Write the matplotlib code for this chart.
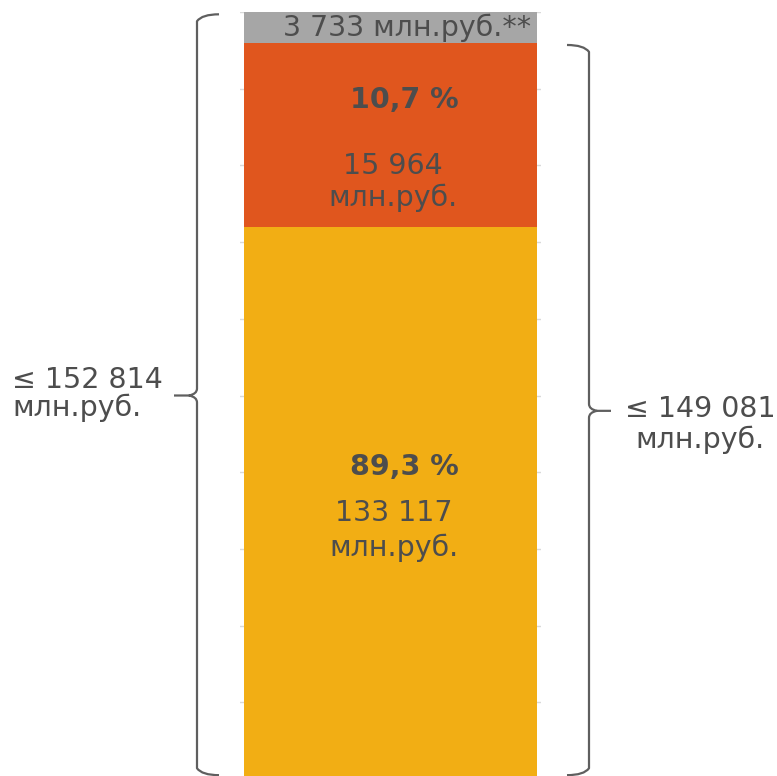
import numpy as np
import matplotlib
matplotlib.use("Agg")
import matplotlib.pyplot as plt
import matplotlib.transforms as mtransforms
from matplotlib.path import Path
from matplotlib.patches import PathPatch

# данные ################
segments = ["основная часть", "дополнительная часть", "прочее"]
bar_heights = [72, 24, 4]            # высота сегментов на шкале 0..100
amounts = ["133 117", "15 964", "3 733"]
shares = ["89,3 %", "10,7 %"]
total_left = "152 814"
total_right = "149 081"
unit = "млн.руб."
colors = ["#F2AE14", "#E0561E", "#A6A6A6"]
#########################

text_color = "#4d4d4d"
line_color = "#5f5f5f"
fs = 20.5

W, H = 777, 776
fig = plt.figure(figsize=(W / 100, H / 100), dpi=100)
ax = fig.add_axes([240 / W, (H - 779) / H, 301 / W, 767 / H])

bottoms = np.concatenate([[0], np.cumsum(bar_heights)[:-1]])
ax.bar([0] * 3, bar_heights, bottom=bottoms, width=0.973, color=colors, zorder=2)

ax.set_xlim(-0.5, 0.5)
ax.set_ylim(0, 100)
ax.set_yticks(np.arange(0, 101, 10))
ax.grid(axis="y", color="#d9d9d9", linewidth=1.0, zorder=0)
ax.tick_params(left=False, bottom=False, labelleft=False, labelbottom=False)
for s in ax.spines.values():
    s.set_visible(False)

# подписи внутри столбца
top_total = sum(bar_heights)
ax.text(0.056, top_total - 2.1, amounts[2] + " " + unit + "**", ha="center", va="center",
        fontsize=fs, color=text_color, zorder=3)
ax.text(0.045, 88.5, shares[1], ha="center", va="center", fontsize=fs,
        fontweight="bold", color=text_color, zorder=3)
ax.text(0.008, 77.8, amounts[1] + "\n" + unit, ha="center", va="center", fontsize=fs,
        color=text_color, linespacing=1.15, zorder=3)
ax.text(0.045, 40.7, shares[0], ha="center", va="center", fontsize=fs,
        fontweight="bold", color=text_color, zorder=3)
ax.text(0.01, 32.4, amounts[0] + "\n" + unit, ha="center", va="center", fontsize=fs,
        color=text_color, linespacing=1.25, zorder=3)

# x в пикселях фигуры, y в данных
px_x = mtransforms.blended_transform_factory(
    mtransforms.Affine2D().scale(1.0 / W, 1.0) + fig.transFigure, ax.transData)


# фигурная скобка
def brace(x_line, x_end, x_tip_end, y0, y1, ymid, r=0.9):
    d = 1 if x_end > x_line else -1
    t = 1 if x_tip_end > x_line else -1
    verts = [
        (x_end, y1), (x_line + d * 5, y1), (x_line, y1 - r),
        (x_line, ymid + r), (x_line, ymid + 0.2), (x_line + t * 8, ymid),
        (x_line + t * 8, ymid), (x_tip_end, ymid),
        (x_line + t * 8, ymid), (x_line, ymid - 0.2), (x_line, ymid - r),
        (x_line, y0 + r), (x_line + d * 5, y0), (x_end, y0),
    ]
    codes = [
        Path.MOVETO, Path.CURVE3, Path.CURVE3,
        Path.LINETO, Path.CURVE3, Path.CURVE3,
        Path.MOVETO, Path.LINETO,
        Path.MOVETO, Path.CURVE3, Path.CURVE3,
        Path.LINETO, Path.CURVE3, Path.CURVE3,
    ]
    p = PathPatch(Path(verts, codes), transform=px_x, fill=False,
                  edgecolor=line_color, linewidth=1.6, clip_on=False,
                  capstyle="butt", joinstyle="round")
    fig.add_artist(p)


right_total = bar_heights[0] + bar_heights[1]
brace(197, 219, 174, 0.5, top_total - 0.3, top_total / 2)
brace(589, 567, 611, 0.5, right_total - 0.3, right_total / 2)

# итоговые подписи
fig.text(12, top_total / 2 + 0.2, "≤ " + total_left + "\n" + unit, transform=px_x,
         ha="left", va="center", fontsize=fs, color=text_color, linespacing=1.0)
fig.text(700, right_total / 2 - 1.8, "≤ " + total_right + "\n" + unit, transform=px_x,
         ha="center", va="center", fontsize=fs, color=text_color, linespacing=1.1)

fig.savefig("out.png", dpi=100)
